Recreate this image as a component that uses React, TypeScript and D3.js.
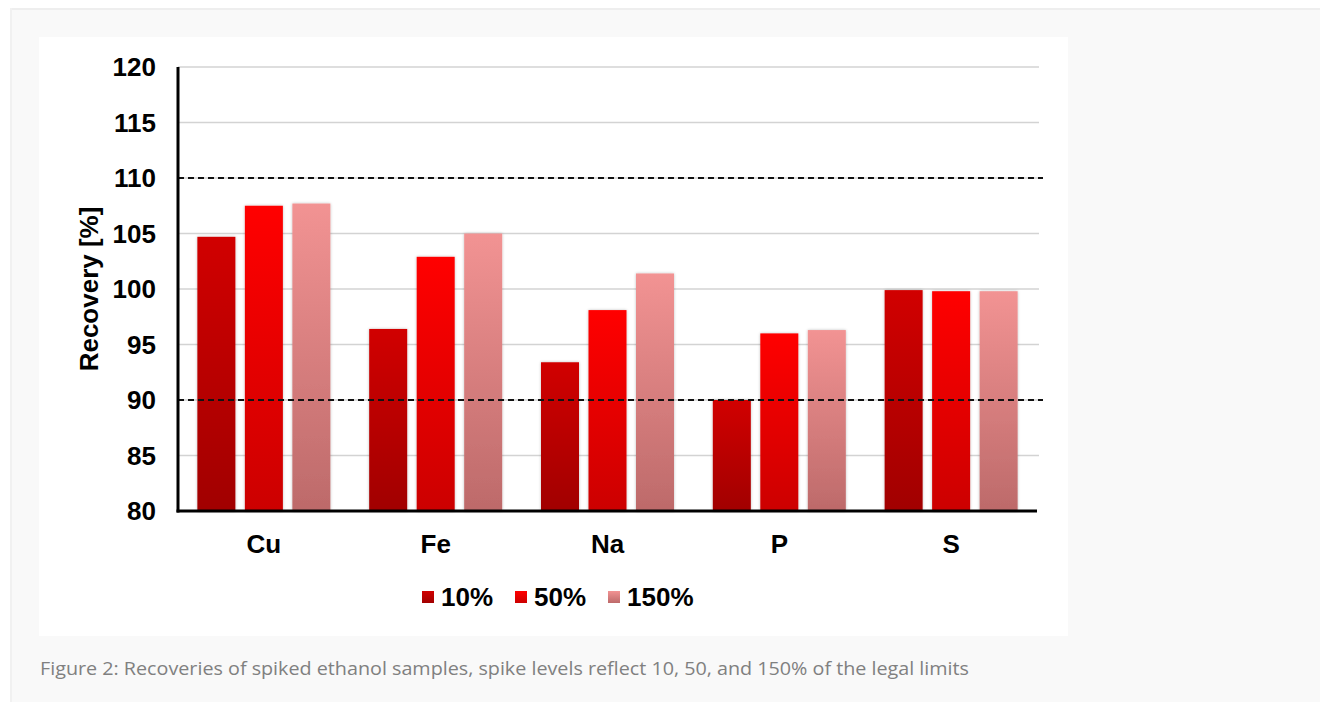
import React from "react";
import * as d3 from "d3";

const categories = ["Cu", "Fe", "Na", "P", "S"];
const seriesNames = ["10%", "50%", "150%"];
const values10 = [104.7, 96.4, 93.4, 90.0, 99.9];
const values50 = [107.5, 102.9, 98.1, 96.0, 99.8];
const values150 = [107.7, 105.0, 101.4, 96.3, 99.8];
const yTicks = [80, 85, 90, 95, 100, 105, 110, 115, 120];
const limits = [90, 110];
const caption =
  "Figure 2: Recoveries of spiked ethanol samples, spike levels reflect 10, 50, and 150% of the legal limits";

const gradients = [
  { id: "g10", top: "#d10000", bottom: "#a10000" },
  { id: "g50", top: "#ff0000", bottom: "#cc0000" },
  { id: "g150", top: "#f29393", bottom: "#bd6a6a" },
];

export default function App() {
  const W = 1320;
  const H = 702;
  const left = 178;
  const right = 1037;
  const top = 67;
  const bottom = 511;

  const x0 = d3.scaleBand().domain(categories).range([left, right]).paddingInner(0.1744).paddingOuter(0.087);
  const y = d3.scaleLinear().domain([80, 120]).range([bottom, top]);
  const series = [values10, values50, values150];
  const bw = 38;
  const pitch = 47.5;

  const font = "'Liberation Sans', Arial, sans-serif";
  const fs = 26;

  return (
    <svg
      width={W}
      height={H}
      style={{ position: "absolute", left: 0, top: 0, background: "#fff" }}
    >
      <defs>
        {gradients.map((g) => (
          <linearGradient key={g.id} id={g.id} x1="0" y1="0" x2="0" y2="1">
            <stop offset="0%" stopColor={g.top} />
            <stop offset="100%" stopColor={g.bottom} />
          </linearGradient>
        ))}
        <filter id="sh" x="-20%" y="-5%" width="140%" height="110%">
          <feGaussianBlur in="SourceAlpha" stdDeviation="1.5" />
          <feOffset dx="0" dy="0" result="b" />
          <feComponentTransfer>
            <feFuncA type="linear" slope="0.25" />
          </feComponentTransfer>
          <feMerge>
            <feMergeNode />
            <feMergeNode in="SourceGraphic" />
          </feMerge>
        </filter>
      </defs>
      {/* outer panel */}
      <rect x={10} y={8} width={W - 10} height={H - 8} fill="#f9f9f9" />
      <line x1={10} x2={W} y1={9} y2={9} stroke="#eeeeee" strokeWidth={2} />
      <line x1={11} x2={11} y1={8} y2={H} stroke="#f1f1f1" strokeWidth={2} />
      {/* chart white area */}
      <rect x={39} y={37} width={1029} height={599} fill="#ffffff" />

      {/* gridlines */}
      {yTicks.map((t) =>
        t === 80 ? null : (
          <line
            key={t}
            x1={left}
            x2={1039}
            y1={y(t)}
            y2={y(t)}
            stroke="#d3d3d3"
            strokeWidth={1.5}
          />
        )
      )}

      {/* bars */}
      {categories.map((c, ci) => {
        const cx = (x0(c) as number) + x0.bandwidth() / 2;
        return series.map((vals, si) => {
          const bx = cx - pitch + si * pitch - bw / 2;
          return (
            <rect
              key={c + si}
              x={bx}
              y={y(vals[ci])}
              width={bw}
              height={bottom - y(vals[ci])}
              fill={`url(#${gradients[si].id})`}
              filter="url(#sh)"
            />
          );
        });
      })}

      {/* limit dashed lines */}
      {limits.map((l) => (
        <line
          key={l}
          x1={left}
          x2={1043}
          y1={y(l)}
          y2={y(l)}
          stroke="#111"
          strokeWidth={1.8}
          strokeDasharray="6,4"
        />
      ))}

      {/* axes */}
      <line x1={left} x2={left} y1={top} y2={bottom + 1.5} stroke="#000" strokeWidth={3} />
      <line x1={left - 1.5} x2={right} y1={bottom} y2={bottom} stroke="#000" strokeWidth={3} />

      {/* y tick labels */}
      {yTicks.map((t) => (
        <text
          key={t}
          x={156}
          y={y(t)}
          dy="0.36em"
          textAnchor="end"
          fontFamily={font}
          fontWeight="bold"
          fontSize={fs}
          fill="#000"
        >
          {t}
        </text>
      ))}

      {/* y title */}
      <text
        transform={`translate(98, ${(top + bottom) / 2 + 0}) rotate(-90)`}
        textAnchor="middle"
        fontFamily={font}
        fontWeight="bold"
        fontSize={fs}
        fill="#000"
      >
        Recovery [%]
      </text>

      {/* x labels */}
      {categories.map((c) => (
        <text
          key={c}
          x={(x0(c) as number) + x0.bandwidth() / 2}
          y={544}
          dy="0.36em"
          textAnchor="middle"
          fontFamily={font}
          fontWeight="bold"
          fontSize={fs}
          fill="#000"
        >
          {c}
        </text>
      ))}

      {/* legend */}
      {seriesNames.map((s, i) => {
        const lx = [422, 515, 608][i];
        return (
          <g key={s}>
            <rect x={lx} y={591} width={12} height={12} fill={`url(#${gradients[i].id})`} />
            <text
              x={lx + 19}
              y={597}
              dy="0.36em"
              fontFamily={font}
              fontWeight="bold"
              fontSize={fs}
              fill="#000"
            >
              {s}
            </text>
          </g>
        );
      })}

      {/* caption */}
      <text
        x={40}
        y={669}
        dy="0.36em"
        fontFamily="'Open Sans', sans-serif"
        fontSize={18}
        fill="#808080"
        textLength={929}
        lengthAdjust="spacingAndGlyphs"
      >
        {caption}
      </text>
    </svg>
  );
}
